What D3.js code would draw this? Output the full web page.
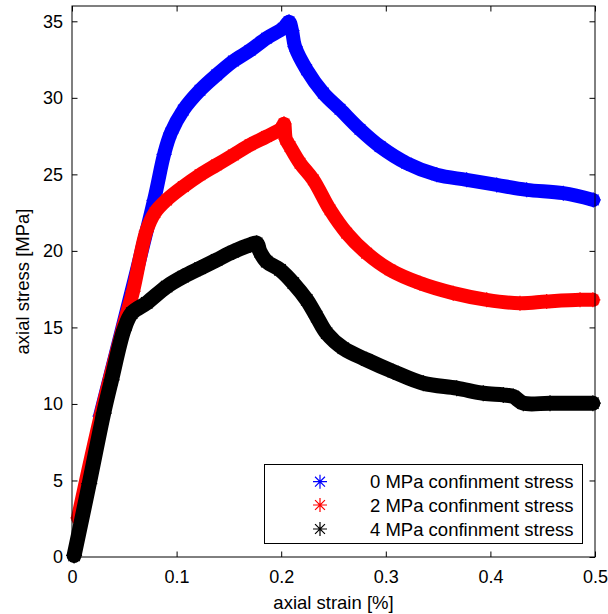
<!DOCTYPE html>
<html><head><meta charset="utf-8">
<script src="https://cdn.jsdelivr.net/npm/d3@7"></script>
<style>body{margin:0;background:#fff}svg{display:block}</style>
</head><body><svg id="c" width="608" height="614"></svg>
<script>
// ---- data ----
const xTicks = [0, 0.1, 0.2, 0.3, 0.4, 0.5];
const yTicks = [0, 5, 10, 15, 20, 25, 30, 35];
const seriesNames = ["0 MPa confinment stress", "2 MPa confinment stress", "4 MPa confinment stress"];
const seriesColors = ["#0000ff", "#ff0000", "#000000"];

const strain0 = [0.0268,0.0784,0.088,0.0945,0.1064,0.1224,0.1383,0.1542,0.1702,0.1861,0.202,0.2075,0.2103,0.2132,0.2244,0.2403,0.2562,0.2753,0.2945,0.32,0.3487,0.3773,0.406,0.4347,0.4697,0.4984];
const stress0 = [9.2,23.3,26.3,27.7,29.2,30.5,31.5,32.4,33.1,33.9,34.55,34.97,34.4,33.35,31.83,30.31,29.25,27.94,26.82,25.73,24.97,24.64,24.31,23.99,23.77,23.33];

const strain2 = [0.0057,0.0277,0.0497,0.0583,0.071,0.0793,0.0905,0.1064,0.1224,0.1383,0.1542,0.1702,0.1861,0.2005,0.2027,0.2045,0.2084,0.218,0.2307,0.2467,0.2626,0.2817,0.304,0.3327,0.3645,0.3965,0.4283,0.4538,0.4857,0.498];
const stress2 = [2.55,9.31,15.2,17.35,21.27,22.5,23.33,24.2,24.97,25.62,26.27,26.93,27.47,28.02,28.3,27.3,26.82,25.73,24.64,22.68,21.16,19.85,18.76,17.89,17.24,16.8,16.58,16.69,16.8,16.8];

const strain4 = [0.002,0.0165,0.0303,0.0378,0.0497,0.0571,0.0714,0.0905,0.1064,0.1224,0.1383,0.1542,0.1702,0.1766,0.1797,0.1861,0.1989,0.2116,0.2244,0.2339,0.2435,0.2594,0.2817,0.3072,0.3359,0.3678,0.3932,0.4123,0.4219,0.4315,0.457,0.498];
const stress4 = [0.1,4.8,9.4,11.57,14.84,15.93,16.6,17.67,18.32,18.87,19.41,19.95,20.39,20.5,19.95,19.3,18.76,17.89,16.8,15.71,14.62,13.64,12.88,12.11,11.35,11.03,10.7,10.59,10.48,10.05,10.05,10.05];

const seriesStrain = [strain0, strain2, strain4];
const seriesStress = [stress0, stress2, stress4];

// ---- layout ----
const L = 72, R = 595, T = 6, B = 557;
const FONT = "'Liberation Sans', Arial, Helvetica, sans-serif";
const svg = d3.select("#c");
const x = d3.scaleLinear().domain([0, 0.5]).range([L, R]);
const y = d3.scaleLinear().domain([0, 36]).range([B, T]);

function asterisk(r) {
  const d = r * 0.7071;
  return `M${-r},0L${r},0M0,${-r}L0,${r}M${-d},${-d}L${d},${d}M${-d},${d}L${d},${-d}`;
}

// ---- series ----
const line = d3.line().x(d => x(d[0])).y(d => y(d[1])).curve(d3.curveCatmullRom.alpha(0.5));
seriesStrain.forEach((sx, i) => {
  const pts = sx.map((v, j) => [v, seriesStress[i][j]]);
  const g = svg.append("g");
  g.append("path").attr("d", line(pts))
    .attr("fill", "none").attr("stroke", seriesColors[i])
    .attr("stroke-width", i === 2 ? 15 : 14)
    .attr("stroke-linejoin", "round").attr("stroke-linecap", "round");
  g.selectAll("path.m").data(pts).join("path").attr("class", "m")
    .attr("d", asterisk(i === 2 ? 8 : 7.5))
    .attr("transform", d => `translate(${x(d[0])},${y(d[1])})`)
    .attr("stroke", seriesColors[i]).attr("stroke-width", 1.2).attr("fill", "none");
});

// ---- axes box ----
svg.append("rect").attr("x", L).attr("y", T).attr("width", R - L).attr("height", B - T)
  .attr("fill", "none").attr("stroke", "#000").attr("stroke-width", 1);

const tl = 5.5;
const axB = d3.axisBottom(x).tickValues(xTicks).tickSize(-tl).tickPadding(13).tickFormat(d3.format(""));
const axT = d3.axisTop(x).tickValues(xTicks).tickSize(-tl).tickFormat("");
const axL = d3.axisLeft(y).tickValues(yTicks).tickSize(-tl).tickPadding(9).tickFormat(d3.format(""));
const axR = d3.axisRight(y).tickValues(yTicks).tickSize(-tl).tickFormat("");

function style(g) {
  g.select(".domain").remove();
  g.selectAll("line").attr("stroke", "#000").attr("stroke-width", 1);
  g.selectAll("text").attr("font-family", FONT).attr("font-size", 18).attr("fill", "#000");
}
svg.append("g").attr("transform", `translate(0,${B})`).call(axB).call(style);
svg.append("g").attr("transform", `translate(0,${T})`).call(axT).call(style);
svg.append("g").attr("transform", `translate(${L},0)`).call(axL).call(style);
svg.append("g").attr("transform", `translate(${R},0)`).call(axR).call(style);

// ---- axis labels ----
svg.append("text").attr("x", (L + R) / 2).attr("y", 609).attr("text-anchor", "middle")
  .attr("font-family", FONT).attr("font-size", 18.5).text("axial strain [%]");
svg.append("text").attr("transform", `translate(29,${(T + B) / 2}) rotate(-90)`).attr("text-anchor", "middle")
  .attr("font-family", FONT).attr("font-size", 18.5).text("axial stress [MPa]");

// ---- legend ----
const lg = svg.append("g");
lg.append("rect").attr("x", 264.5).attr("y", 464.5).attr("width", 318).attr("height", 79)
  .attr("fill", "#fff").attr("stroke", "#000").attr("stroke-width", 1);
const rowY = [481.7, 505, 529];
seriesNames.forEach((n, i) => {
  lg.append("path").attr("d", asterisk(7)).attr("transform", `translate(320,${rowY[i]})`)
    .attr("stroke", seriesColors[i]).attr("stroke-width", 1.2).attr("fill", "none");
  lg.append("text").attr("x", 370).attr("y", rowY[i]).attr("dy", "0.36em")
    .attr("font-family", FONT).attr("font-size", 18.5).text(n);
});
</script></body></html>
